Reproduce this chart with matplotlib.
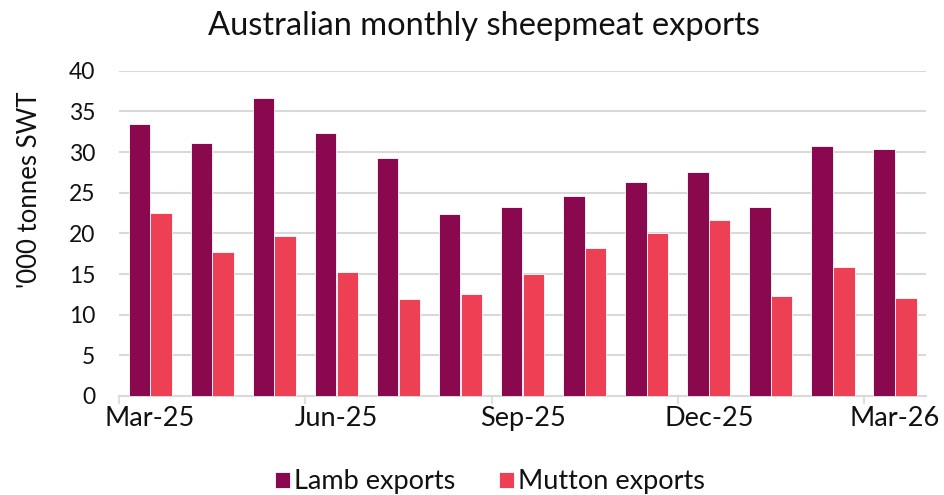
import matplotlib
matplotlib.use("Agg")
import matplotlib.pyplot as plt
import numpy as np

months = ["Mar-25", "Apr-25", "May-25", "Jun-25", "Jul-25", "Aug-25", "Sep-25",
          "Oct-25", "Nov-25", "Dec-25", "Jan-26", "Feb-26", "Mar-26"]
lamb = [33.4, 31.1, 36.7, 32.4, 29.3, 22.4, 23.2, 24.6, 26.3, 27.6, 23.2, 30.8, 30.4]
mutton = [22.5, 17.7, 19.7, 15.3, 11.9, 12.5, 15.0, 18.2, 20.0, 21.7, 12.3, 15.9, 12.1]
tick_labels = ["Mar-25", "Jun-25", "Sep-25", "Dec-25", "Mar-26"]
tick_months = [0, 3, 6, 9, 12]

lamb_color = "#8A084E"
mutton_color = "#EE4055"
grid_color = "#D9D9D9"
text_color = "#111111"

plt.rcParams['font.family'] = ['Lato', 'DejaVu Sans']

fig = plt.figure(figsize=(9.45, 4.95), dpi=100)
ax = fig.add_axes([0.126, 0.2, 0.854, 0.657])

x = np.arange(len(months)) + 0.5
w = 0.345
ax.bar(x - 0.175, lamb, width=w, color=lamb_color, edgecolor="white", linewidth=0.6,
       label="Lamb exports", zorder=3)
ax.bar(x + 0.175, mutton, width=w, color=mutton_color, edgecolor="white", linewidth=0.6,
       label="Mutton exports", zorder=3)

ax.set_xlim(0, len(months))
ax.set_ylim(0, 40)
ax.set_yticks(range(0, 41, 5))
ax.yaxis.grid(True, color=grid_color, linewidth=1.5, zorder=0)
ax.set_axisbelow(True)
ax.tick_params(axis="y", length=0, labelsize=16.5, pad=17, labelcolor=text_color)

# major ticks at category boundaries (no labels), labels at category centres
ax.set_xticks(tick_months)
ax.set_xticklabels([])
ax.tick_params(axis="x", which="major", length=6, width=1.2, color=grid_color)
ax.set_xticks([t + 0.5 for t in tick_months], minor=True)
ax.set_xticklabels(tick_labels, minor=True)
ax.tick_params(axis="x", which="minor", length=0, labelsize=19.5, pad=7,
               labelcolor=text_color)

for s in ["top", "right", "left"]:
    ax.spines[s].set_visible(False)
ax.spines["bottom"].set_color(grid_color)
ax.spines["bottom"].set_linewidth(1.5)

fig.text(30 / 945, 1 - 190 / 495, "'000 tonnes SWT", rotation=90, ha="center",
         va="center", fontsize=18.5, color=text_color)
fig.text(484 / 945, 1 - 35 / 495, "Australian monthly sheepmeat exports", ha="center",
         va="baseline", fontsize=23.5, color=text_color)

leg = fig.legend(loc="lower center", bbox_to_anchor=(490 / 945, -0.048), ncol=2,
                 frameon=False, fontsize=19.5, handlelength=0.55, handleheight=0.55,
                 handletextpad=0.15, columnspacing=1.6, labelcolor=text_color)

fig.savefig("out.png", dpi=100)
